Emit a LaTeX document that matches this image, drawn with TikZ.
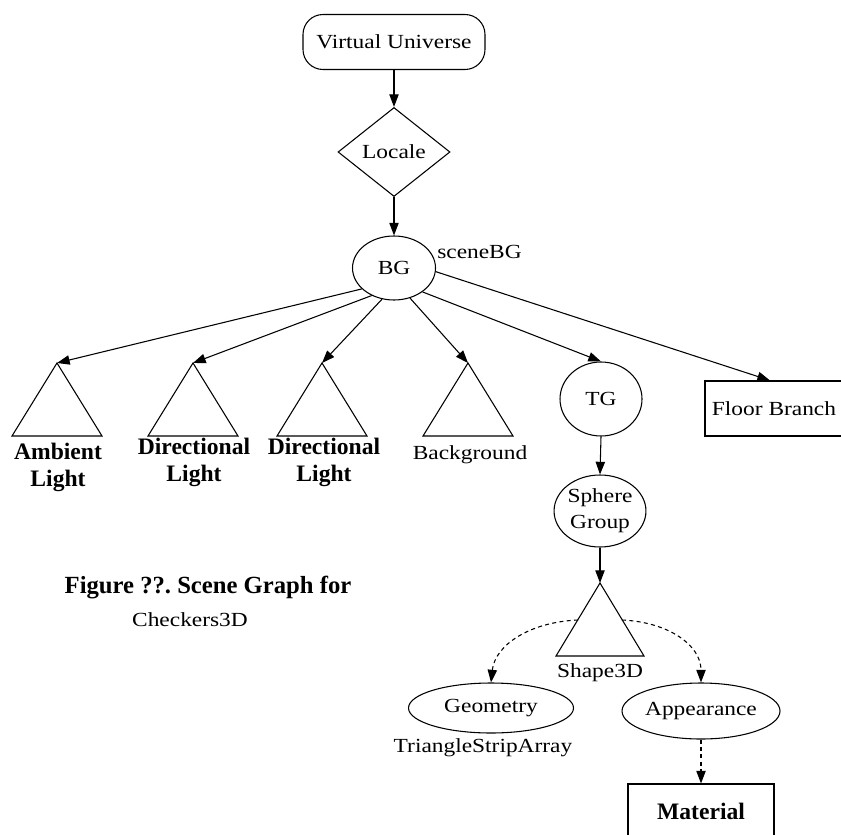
\documentclass[tikz,border=0pt]{standalone}
\usepackage{fontspec}
\setmainfont{Liberation Serif}
\newfontfamily\lblfont[FakeStretch=1.17]{Liberation Serif}
\usetikzlibrary{shapes.geometric,arrows.meta}
\tikzset{
  lbl/.style={font=\lblfont\fontsize{15}{19.5}\selectfont, inner sep=0pt, align=center},
  blbl/.style={font=\bfseries\fontsize{17.7}{20.25}\selectfont, inner sep=0pt, align=center},
  nd/.style={draw, line width=0.8pt, font=\lblfont\fontsize{15}{19.5}\selectfont, inner sep=0pt, align=center},
  arr/.style={line width=0.8pt, -{Triangle[length=9.5pt,width=7pt]}},
  darr/.style={arr, dash pattern=on 3pt off 2.5pt},
  tri/.style={line width=0.8pt, line join=miter},
}
\begin{document}
\begin{tikzpicture}[x=0.75pt,y=-0.75pt]
\useasboundingbox (0,0) rectangle (841,834);
\clip (0,0) rectangle (841,834);
% top chain
\node[nd, rounded corners=15pt, minimum width=136.5pt, minimum height=41.25pt] (vu) at (394,42) {Virtual Universe};
\node[nd, diamond, aspect=1.26, minimum width=84pt, minimum height=66.75pt] (loc) at (394,152) {Locale};
\node[nd, ellipse, minimum width=62.25pt, minimum height=48pt] (bg) at (394,268) {BG};
\node[lbl, anchor=west] (sbg) at (437,252) {sceneBG};
% triangles (leaf groups)
\coordinate (amb) at (57,363);
\coordinate (d1) at (193,363);
\coordinate (d2) at (322,363);
\coordinate (bkg) at (468,363);
\foreach \t in {amb,d1,d2,bkg}{
  \draw[tri] (\t) -- ++(-45,73) -- ++(90,0) -- cycle;
}
\node[blbl] (ambl) at (58,467.5) {Ambient\\Light};
\node[blbl] (d1l) at (194,462.5) {Directional\\Light};
\node[blbl] (d2l) at (324,462.5) {Directional\\Light};
\node[lbl] (bkgl) at (470,455) {Background};
% right branch
\node[nd, ellipse, minimum width=61.5pt, minimum height=55.5pt] (tg) at (601,399) {TG};
\node[nd, minimum width=112.5pt, minimum height=41.25pt] (fb) at (780,408.5) {Floor Branch\hspace{9pt}};
\node[nd, ellipse, minimum width=63.75pt, minimum height=54pt] (sg) at (600,511) {Sphere\\Group};
\coordinate (s3d) at (600,583);
\draw[tri] (s3d) -- ++(-44,73) -- ++(88,0) -- cycle;
\node[lbl] (s3dl) at (600,673) {Shape3D};
\coordinate (s3dL) at (578,620);
\coordinate (s3dR) at (622,620);
\node[nd, ellipse, minimum width=123.75pt, minimum height=37.5pt] (geo) at (491,708) {Geometry};
\node[lbl] (tsa) at (483,748) {TriangleStripArray};
\node[nd, ellipse, minimum width=109.5pt, minimum height=42pt] (app) at (701,711) {Appearance};
\node[draw, line width=0.8pt, blbl, text depth=4.5pt, minimum width=109.5pt, minimum height=45pt] (mat) at (701,814) {Material};
% caption
\node[font=\bfseries\fontsize{18.5}{22}\selectfont, inner sep=0pt] (cap) at (208,588) {Figure ??.\ Scene Graph for};
\node[lbl] (chk) at (190,620) {Checkers3D};
% connectors
\draw[arr] (vu.south) -- (loc.north);
\draw[arr] (loc.south) -- (bg.north);
\draw[arr] (bg.213) -- (amb);
\draw[arr] (bg.231) -- (d1);
\draw[arr] (bg.249) -- (d2);
\draw[arr] (bg.298) -- (bkg);
\draw[arr] (bg.-40) -- (tg.north);
\draw[arr] (bg.-5) -- ([xshift=-7.5pt]fb.north);
\draw[arr] (tg.south) -- (sg.north);
\draw[arr] (sg.south) -- (s3d);
\draw[darr] (s3dL) .. controls (530,622) and (495,645) .. (geo.north);
\draw[darr] (s3dR) .. controls (668,622) and (701,645) .. (app.north);
\draw[darr] (app.south) -- (mat.north);
\end{tikzpicture}
\end{document}
